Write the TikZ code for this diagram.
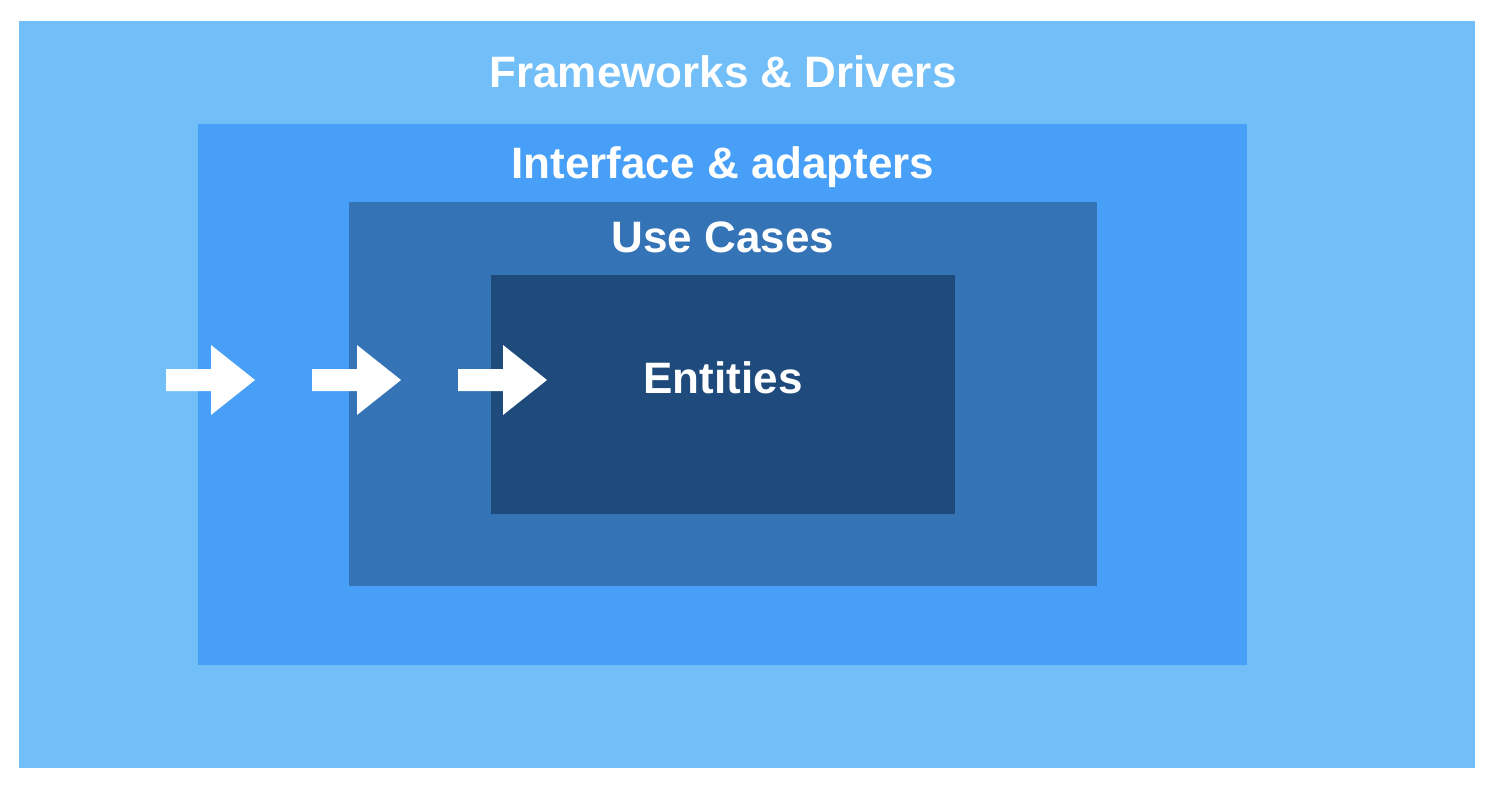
\documentclass[tikz,border=0pt]{standalone}
\usepackage{fontspec}
\setmainfont{Liberation Sans}
\definecolor{layerA}{HTML}{72BEF8}
\definecolor{layerB}{HTML}{479FF7}
\definecolor{layerC}{HTML}{3373B6}
\definecolor{layerD}{HTML}{1E4B7C}
\begin{document}
\begin{tikzpicture}[x=1pt,y=-1pt,
  lbl/.style={text=white, font=\fontsize{44}{48}\selectfont\bfseries, anchor=base, inner sep=0pt},
  arrowshape/.style={fill=white, draw=none}]
\useasboundingbox (0,0) rectangle (1490,784);
\fill[white] (0,0) rectangle (1490,784);
\fill[layerA] (19,21) rectangle (1475,768);
\fill[layerB] (198,124) rectangle (1247,665);
\fill[layerC] (349,202) rectangle (1097,586);
\fill[layerD] (491,275) rectangle (955,514);
\node[lbl] (fw) at (723,87) {Frameworks \& Drivers};
\node[lbl] (ia) at (723,178) {Interface \& adapters};
\node[lbl] (uc) at (723,252) {Use Cases};
\node[lbl] (en) at (723,393) {Entities};
\foreach \s in {166,312,458}{
  \fill[arrowshape] (\s,369) -- ++(45,0) -- ++(0,-24) -- ++(44,35) -- ++(-44,35) -- ++(0,-24) -- ++(-45,0) -- cycle;
}
\end{tikzpicture}
\end{document}
